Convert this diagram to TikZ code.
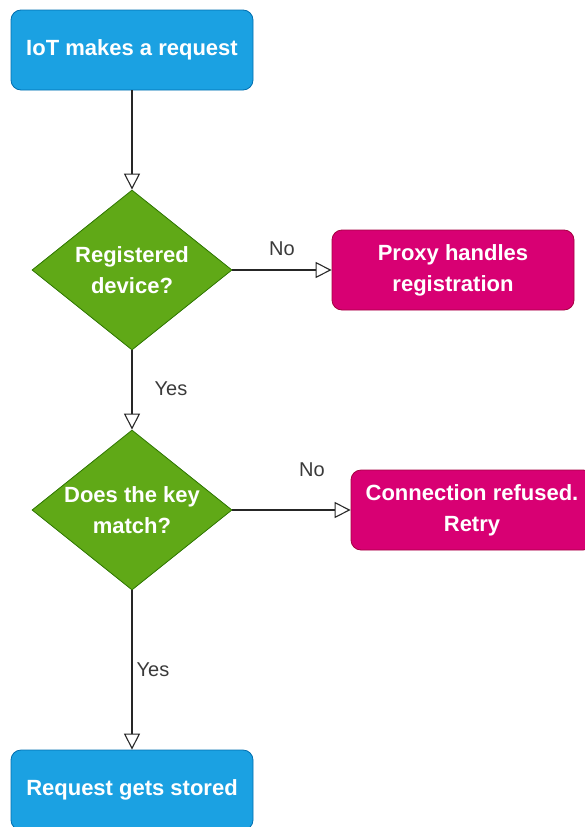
\documentclass[tikz,border=0pt]{standalone}
\usepackage{fontspec}
\setmainfont{Liberation Sans}
\usetikzlibrary{shapes.geometric,arrows.meta}
\definecolor{bluefill}{HTML}{1BA1E2}
\definecolor{blueline}{HTML}{006EAF}
\definecolor{greenfill}{HTML}{60A917}
\definecolor{greenline}{HTML}{2D7600}
\definecolor{pinkfill}{HTML}{D80073}
\definecolor{pinkline}{HTML}{A50040}
\definecolor{labelgray}{HTML}{3A3A3A}
\tikzset{
  procbox/.style={rectangle, rounded corners=10pt, minimum width=242pt, minimum height=80pt,
    inner sep=0pt, align=center, text=white, font=\fontsize{22}{31}\selectfont\bfseries, line width=0.8pt},
  bluebox/.style={procbox, fill=bluefill, draw=blueline},
  pinkbox/.style={procbox, fill=pinkfill, draw=pinkline},
  decision/.style={diamond, minimum width=200pt, minimum height=160pt, inner sep=0pt, aspect=1.25,
    align=center, text=white, font=\fontsize{22}{31}\selectfont\bfseries, fill=greenfill, draw=greenline, line width=0.8pt},
  flow/.style={draw=black!85, line width=1.3pt, -{Triangle[open, length=16pt, width=16pt, line width=1.1pt]}},
  edgelabel/.style={text=labelgray, font=\fontsize{20}{24}\selectfont}
}
\begin{document}
\begin{tikzpicture}[x=1pt, y=-1pt]
\useasboundingbox (0,0) rectangle (585,827);
\begin{scope}
\clip (0,0) rectangle (585,827);
\node[bluebox] (start) at (132,50) {IoT makes a request};
\node[decision] (reg) at (132,270) {Registered\\device?};
\node[pinkbox] (proxy) at (453,270) {Proxy handles\\registration};
\node[decision] (key) at (132,510) {Does the key\\match?};
\node[pinkbox] (refused) at (472,510) {Connection refused.\\Retry};
\node[bluebox] (stored) at (132,790) {Request gets stored};
\draw[flow] (start) -- (reg);
\draw[flow] (reg) -- (proxy);
\draw[flow] (reg) -- (key);
\draw[flow] (key) -- (refused);
\draw[flow] (key) -- (stored);
\node[edgelabel] (no1) at (282,249) {No};
\node[edgelabel] (yes1) at (171,389) {Yes};
\node[edgelabel] (no2) at (312,470) {No};
\node[edgelabel] (yes2) at (153,670) {Yes};
\end{scope}
\end{tikzpicture}
\end{document}
